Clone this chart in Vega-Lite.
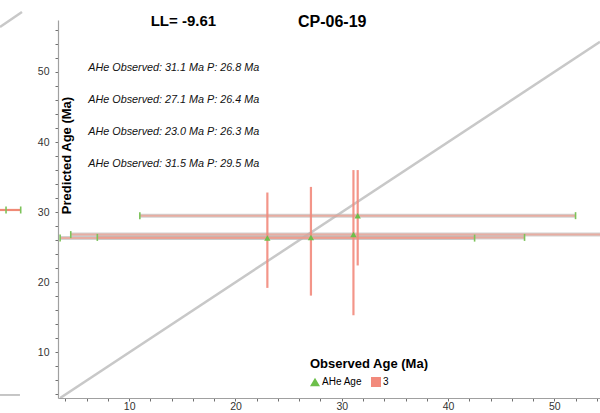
{
  "$schema": "https://vega.github.io/schema/vega-lite/v6.json",
  "width": 542,
  "height": 378,
  "autosize": "none",
  "padding": {"left": 58, "top": 20, "right": 0, "bottom": 15},
  "background": "white",
  "config": {
    "view": {"stroke": null},
    "font": "Liberation Sans",
    "axis": {
      "grid": false,
      "domainColor": "#a0a0a0",
      "domainWidth": 1.2,
      "tickColor": "#707070",
      "tickSize": 3,
      "labelFont": "Liberation Sans",
      "labelFontSize": 10.5,
      "labelColor": "#333333"
    }
  },
  "datasets": {
    "ahe": [
      {"series": "AHe Age", "observed": 31.1, "obs_lo": 4.5, "obs_hi": 57.7, "predicted": 26.8, "pred_lo": 15.3, "pred_hi": 36.0},
      {"series": "AHe Age", "observed": 27.1, "obs_lo": 7.0, "obs_hi": 47.2, "predicted": 26.4, "pred_lo": 18.1, "pred_hi": 33.6},
      {"series": "AHe Age", "observed": 23.0, "obs_lo": 3.5, "obs_hi": 42.5, "predicted": 26.3, "pred_lo": 19.2, "pred_hi": 32.8},
      {"series": "AHe Age", "observed": 31.5, "obs_lo": 11.0, "obs_hi": 52.0, "predicted": 29.5, "pred_lo": 22.4, "pred_hi": 36.0}
    ],
    "one_to_one": [{"age": 3.5}, {"age": 54.3}],
    "header": [{"ll": -9.61, "sample": "CP-06-19"}],
    "adjacent_diag": [{"x": -2.16, "y": 56.4}, {"x": -0.09, "y": 58.54}],
    "adjacent_bar": [{"lo": -2.16, "hi": -0.21, "age": 30.31}],
    "adjacent_caps": [{"x": -1.59, "age": 30.31}, {"x": -0.21, "age": 30.31}],
    "adjacent_axis": [{"lo": -2.16, "hi": -0.28, "age": 3.93}]
  },
  "layer": [
    {
      "data": {"name": "one_to_one"},
      "mark": {"type": "line", "color": "#c8c8c8", "strokeWidth": 2.5, "clip": true},
      "encoding": {
        "x": {
          "field": "age", "type": "quantitative",
          "scale": {"domain": [3.3, 54.3], "nice": false, "zero": false},
          "axis": {
            "title": null,
            "values": [4, 6, 8, 10, 12, 14, 16, 18, 20, 22, 24, 26, 28, 30, 32, 34, 36, 38, 40, 42, 44, 46, 48, 50, 52, 54],
            "tickCount": 100,
            "labelExpr": "datum.value % 10 === 0 ? '' + datum.value : ''",
            "labelOverlap": false,
            "labelFlush": false,
            "labelPadding": 0
          }
        },
        "y": {
          "field": "age", "type": "quantitative",
          "scale": {"domain": [3.5, 57.4], "nice": false, "zero": false},
          "axis": {
            "title": "Predicted Age (Ma)",
            "titleFont": "Liberation Sans",
            "titleFontSize": 13,
            "titleFontWeight": "bold",
            "titleColor": "#000000",
            "titleX": 15,
            "titleY": 135,
            "titleAngle": -90,
            "titleAlign": "center",
            "titleBaseline": "bottom",
            "values": [4, 6, 8, 10, 12, 14, 16, 18, 20, 22, 24, 26, 28, 30, 32, 34, 36, 38, 40, 42, 44, 46, 48, 50, 52, 54, 56],
            "tickCount": 100,
            "labelExpr": "datum.value % 10 === 0 ? '' + datum.value : ''",
            "labelOverlap": false,
            "labelFlush": false,
            "labelPadding": 6
          }
        }
      }
    },
    {
      "data": {"name": "ahe"},
      "mark": {"type": "rule", "color": "#b4b4b4", "strokeWidth": 4, "opacity": 0.6, "clip": true},
      "encoding": {
        "x": {"field": "obs_lo", "type": "quantitative"},
        "x2": {"field": "obs_hi"},
        "y": {"field": "predicted", "type": "quantitative"}
      }
    },
    {
      "data": {"name": "ahe"},
      "mark": {"type": "rule", "color": "#f39a88", "strokeWidth": 2, "opacity": 0.65, "clip": true},
      "encoding": {
        "x": {"field": "obs_lo", "type": "quantitative"},
        "x2": {"field": "obs_hi"},
        "y": {"field": "predicted", "type": "quantitative"}
      }
    },
    {
      "data": {"name": "ahe"},
      "transform": [{"fold": ["obs_lo", "obs_hi"], "as": ["end", "obs_end"]}],
      "mark": {"type": "tick", "orient": "vertical", "color": "#7cc35a", "size": 7, "thickness": 1.6, "opacity": 1, "clip": true},
      "encoding": {
        "x": {"field": "obs_end", "type": "quantitative"},
        "y": {"field": "predicted", "type": "quantitative"}
      }
    },
    {
      "data": {"name": "ahe"},
      "mark": {"type": "rule", "color": "#f28a7c", "strokeWidth": 2.2, "opacity": 0.9},
      "encoding": {
        "x": {"field": "observed", "type": "quantitative"},
        "y": {"field": "pred_lo", "type": "quantitative"},
        "y2": {"field": "pred_hi"}
      }
    },
    {
      "data": {"name": "ahe"},
      "mark": {"type": "point", "filled": true, "size": 40, "opacity": 1},
      "encoding": {
        "x": {"field": "observed", "type": "quantitative"},
        "y": {"field": "predicted", "type": "quantitative"},
        "color": {
          "field": "series", "type": "nominal",
          "scale": {"domain": ["AHe Age", "3"], "range": ["#6cbf4a", "#f28a7c"]},
          "legend": {
            "title": "Observed Age (Ma)",
            "orient": "none",
            "legendX": 252,
            "legendY": 338,
            "direction": "horizontal",
            "titleFont": "Liberation Sans",
            "titleFontSize": 13,
            "titleFontWeight": "bold",
            "titleColor": "#000000",
            "titleAnchor": "start",
            "titlePadding": 6,
            "labelFont": "Liberation Sans",
            "labelFontSize": 10,
            "labelColor": "#000000",
            "labelOffset": 2,
            "columnPadding": 8,
            "symbolSize": 100,
            "symbolStrokeWidth": 0
          }
        },
        "shape": {
          "field": "series", "type": "nominal",
          "scale": {"domain": ["AHe Age", "3"], "range": ["triangle-up", "square"]},
          "legend": {
            "title": "Observed Age (Ma)",
            "orient": "none",
            "legendX": 252,
            "legendY": 338,
            "direction": "horizontal",
            "titleFont": "Liberation Sans",
            "titleFontSize": 13,
            "titleFontWeight": "bold",
            "titleColor": "#000000",
            "titleAnchor": "start",
            "titlePadding": 6,
            "labelFont": "Liberation Sans",
            "labelFontSize": 10,
            "labelColor": "#000000",
            "labelOffset": 2,
            "columnPadding": 8,
            "symbolSize": 100,
            "symbolStrokeWidth": 0
          }
        }
      }
    },
    {
      "data": {"name": "ahe"},
      "transform": [
        {"window": [{"op": "row_number", "as": "line"}]},
        {"calculate": "'AHe Observed: ' + format(datum.observed, '.1f') + ' Ma P: ' + format(datum.predicted, '.1f') + ' Ma'", "as": "note"}
      ],
      "mark": {"type": "text", "align": "left", "baseline": "middle", "font": "Liberation Sans", "fontStyle": "italic", "fontSize": 10.8, "color": "#111111"},
      "encoding": {
        "x": {"datum": 6.15},
        "y": {"datum": 50.5},
        "yOffset": {"field": "line", "type": "quantitative", "scale": {"domain": [1, 4], "range": [0, 96]}},
        "text": {"field": "note"}
      }
    },
    {
      "data": {"name": "header"},
      "transform": [{"calculate": "'LL= ' + datum.ll", "as": "ll_label"}],
      "mark": {"type": "text", "align": "center", "baseline": "middle", "font": "Liberation Sans", "fontWeight": "bold", "fontSize": 15, "color": "#000000", "clip": false},
      "encoding": {
        "x": {"datum": 15.1},
        "y": {"datum": 57.2},
        "text": {"field": "ll_label"}
      }
    },
    {
      "data": {"name": "header"},
      "mark": {"type": "text", "align": "center", "baseline": "middle", "font": "Liberation Sans", "fontWeight": "bold", "fontSize": 16, "color": "#000000", "clip": false},
      "encoding": {
        "x": {"datum": 29.1},
        "y": {"datum": 57.1},
        "text": {"field": "sample"}
      }
    },
    {
      "data": {"name": "adjacent_diag"},
      "mark": {"type": "line", "color": "#c8c8c8", "strokeWidth": 2.5, "clip": false},
      "encoding": {
        "x": {"field": "x", "type": "quantitative"},
        "y": {"field": "y", "type": "quantitative"}
      }
    },
    {
      "data": {"name": "adjacent_axis"},
      "mark": {"type": "rule", "color": "#a0a0a0", "strokeWidth": 1.2, "clip": false},
      "encoding": {
        "x": {"field": "lo", "type": "quantitative"},
        "x2": {"field": "hi"},
        "y": {"field": "age", "type": "quantitative"}
      }
    },
    {
      "data": {"name": "adjacent_bar"},
      "mark": {"type": "rule", "color": "#f08a76", "strokeWidth": 2.2, "clip": false},
      "encoding": {
        "x": {"field": "lo", "type": "quantitative"},
        "x2": {"field": "hi"},
        "y": {"field": "age", "type": "quantitative"}
      }
    },
    {
      "data": {"name": "adjacent_caps"},
      "mark": {"type": "tick", "orient": "vertical", "color": "#7cc35a", "size": 7, "thickness": 1.6, "opacity": 1, "clip": false},
      "encoding": {
        "x": {"field": "x", "type": "quantitative"},
        "y": {"field": "age", "type": "quantitative"}
      }
    }
  ]
}
